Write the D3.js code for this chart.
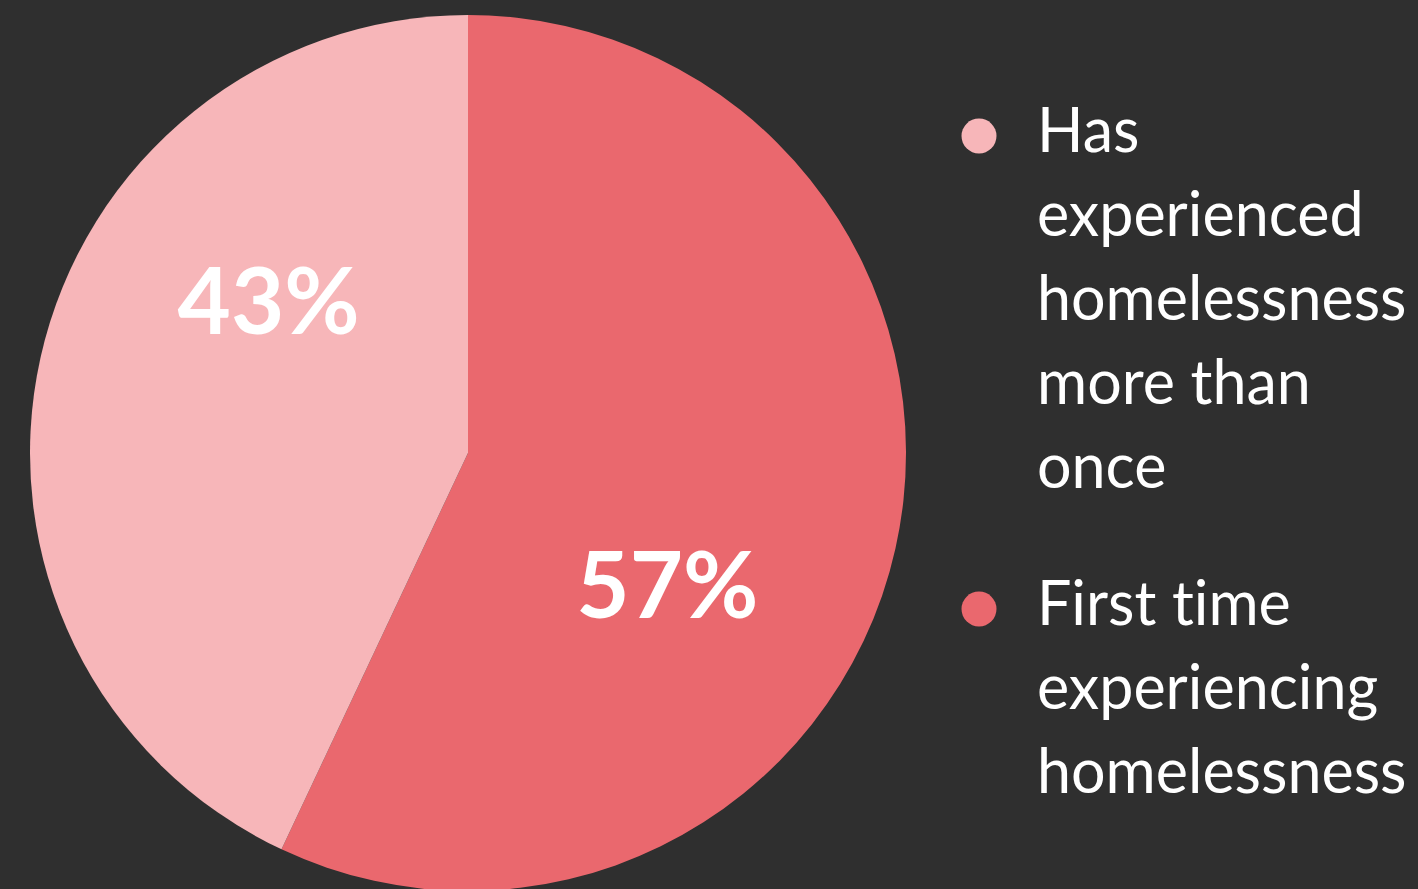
<!DOCTYPE html>
<html>
<head>
<meta charset="utf-8">
<script src="https://cdn.jsdelivr.net/npm/d3@7"></script>
<style>
  body { margin: 0; background: #2f2f2f; }
  svg { display: block; }
  text { font-variant-ligatures: none; }
</style>
</head>
<body>
<div id="chart-area"></div>
<script>
// data
var categories = ["First time experiencing homelessness", "Has experienced homelessness more than once"];
var values = [57, 43];
var colors = ["#ea686e", "#f7b6b9"];
var legendLines = [
    ["Has", "experienced", "homelessness", "more than", "once"],
    ["First time", "experiencing", "homelessness"]
];
var legendColors = ["#f7b6b9", "#ea686e"];

var width = 1418;
var height = 889;

var svg = d3.select("#chart-area")
    .append("svg")
    .attr("width", width)
    .attr("height", height);

svg.append("rect")
    .attr("width", width)
    .attr("height", height)
    .attr("fill", "#2f2f2f");

// pie
var radius = 438;
var g = svg.append("g")
    .attr("transform", "translate(468, 453)");

var pie = d3.pie().sort(null).value((d) => d);
var arc = d3.arc().innerRadius(0).outerRadius(radius);

var arcs = pie(values);

g.selectAll("path")
    .data(arcs)
    .enter()
    .append("path")
    .attr("d", arc)
    .attr("fill", (d, i) => colors[i]);

// labels a bit off the mid angle, like the original
var labelR = 245;
g.selectAll("text.pct")
    .data(arcs)
    .enter()
    .append("text")
    .attr("class", "pct")
    .attr("x", (d) => labelR * Math.sin((d.startAngle + d.endAngle) / 2 + 0.4))
    .attr("y", (d) => -labelR * Math.cos((d.startAngle + d.endAngle) / 2 + 0.4))
    .attr("dy", "0.25em")
    .attr("text-anchor", "middle")
    .attr("font-family", "Lato, sans-serif")
    .attr("font-weight", "bold")
    .attr("font-size", "92px")
    .attr("fill", "#ffffff")
    .text((d) => d.value + "%");

// legend
var legendTop = [152, 625];
var lineH = 84;

legendLines.forEach((lines, k) => {
    var lg = svg.append("g");
    lg.append("circle")
        .attr("cx", 979)
        .attr("cy", legendTop[k] - 16)
        .attr("r", 17.5)
        .attr("fill", legendColors[k]);
    lg.selectAll("text")
        .data(lines)
        .enter()
        .append("text")
        .attr("x", 1037)
        .attr("y", (d, i) => legendTop[k] + i * lineH)
        .attr("font-family", "Lato, sans-serif")
        .attr("font-size", "61px")
        .attr("fill", "#ffffff")
        .text((d) => d);
});
</script>
</body>
</html>
